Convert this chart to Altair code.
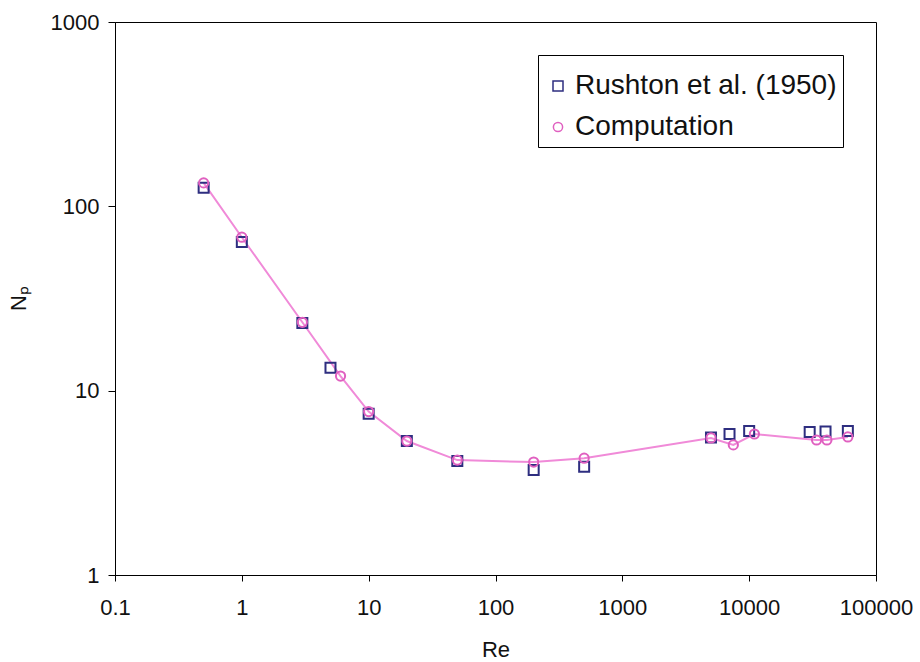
import altair as alt
import pandas as pd

# Rushton et al. (1950) data
re_rushton = [0.5, 1, 3, 5, 10, 20, 50, 200, 500, 5000, 7000, 10000, 30000, 40000, 60000]
np_rushton = [126, 64, 23.3, 13.3, 7.5, 5.33, 4.15, 3.71, 3.87, 5.57, 5.82, 6.04, 5.97, 6.0, 6.04]

# Computation data
re_comp = [0.5, 1, 3, 6, 10, 20, 50, 200, 500, 5000, 7500, 11000, 34000, 41000, 60000]
np_comp = [134, 68, 23.5, 12.0, 7.7, 5.33, 4.2, 4.1, 4.3, 5.54, 5.08, 5.82, 5.40, 5.40, 5.61]

series_names = ["Rushton et al. (1950)", "Computation"]
x_ticks = [0.1, 1, 10, 100, 1000, 10000, 100000]
y_ticks = [1, 10, 100, 1000]

rows = []
for x, y in zip(re_rushton, np_rushton):
    rows.append({"Re": x, "Np": y, "series": series_names[0], "order": 0})
for x, y in zip(re_comp, np_comp):
    rows.append({"Re": x, "Np": y, "series": series_names[1], "order": 1})
df = pd.DataFrame(rows)
comp_df = pd.DataFrame({"Re": re_comp, "Np": np_comp})

FONT = "Liberation Sans"

x_enc = alt.X(
    "Re:Q",
    scale=alt.Scale(type="log", domain=[0.1, 100000], nice=False),
    axis=alt.Axis(
        title="Re",
        values=x_ticks,
        labelExpr="datum.value < 1 ? format(datum.value, '.1f') : format(datum.value, 'd')",
        grid=False,
        tickSize=6,
        labelPadding=16,
        titlePadding=21,
        labelFlush=False,
    ),
)
y_enc = alt.Y(
    "Np:Q",
    scale=alt.Scale(type="log", domain=[1, 1000], nice=False),
    axis=alt.Axis(
        title="Nₚ",
        values=y_ticks,
        format="d",
        grid=False,
        tickSize=7,
        labelPadding=9,
        labelFlush=False,
        titleX=-90,
        titleY=276,
        titleBaseline="alphabetic",
        titleAlign="center",
        titleAngle=270,
    ),
)

line = alt.Chart(comp_df).mark_line(color="#f08ad8", strokeWidth=2).encode(
    x=x_enc, y=y_enc, order=alt.Order("Re:Q")
)

points = alt.Chart(df).mark_point(filled=False, strokeWidth=2, opacity=1).encode(
    x=x_enc,
    y=y_enc,
    color=alt.Color(
        "series:N",
        scale=alt.Scale(domain=series_names, range=["#2e2e80", "#e060c0"]),
        legend=alt.Legend(
            title=" ",
            titleFontSize=8,
            titlePadding=3,
            orient="none",
            legendX=423,
            legendY=33,
            labelFontSize=28,
            labelFont=FONT,
            labelColor="#111111",
            labelLimit=400,
            symbolSize=60,
            symbolStrokeWidth=1.5,
            labelOffset=3,
            rowPadding=13,
            padding=6,
            fillColor="white",
            strokeColor="black",
        ),
    ),
    shape=alt.Shape(
        "series:N",
        scale=alt.Scale(domain=series_names, range=["square", "circle"]),
    ),
    size=alt.Size(
        "series:N",
        scale=alt.Scale(domain=series_names, range=[100, 85]),
        legend=None,
    ),
    order=alt.Order("order:Q"),
)

chart = (
    alt.layer(line, points)
    .properties(
        width=761,
        height=553,
        autosize=alt.AutoSizeParams(type="none"),
        padding={"left": 115, "top": 22, "right": 44, "bottom": 87},
        background="white",
    )
    .configure_view(stroke="black", strokeWidth=1)
    .configure_axis(
        labelFont=FONT,
        titleFont=FONT,
        labelFontSize=22,
        titleFontSize=22,
        titleFontWeight="normal",
        labelColor="#111111",
        titleColor="#111111",
        domainColor="black",
        tickColor="black",
    )
)

chart.save("out.html", embed_options={"renderer": "svg", "actions": False})
